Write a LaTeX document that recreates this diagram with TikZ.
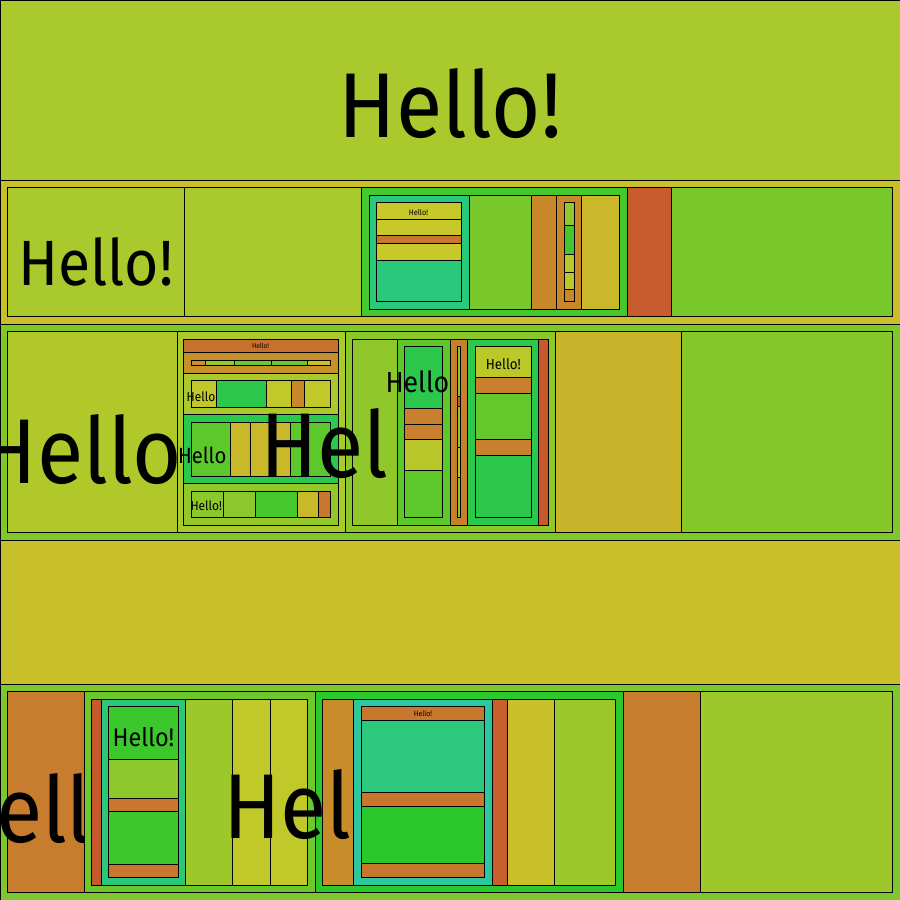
\documentclass[tikz,border=0pt]{standalone}
\usepackage{fontspec}
\setmainfont{Fira Sans}[FakeStretch=0.92]
\newcommand\bx[5]{\definecolor{bxc}{HTML}{#5}\draw[box,fill=bxc] (#1,#2) rectangle (#3,#4);}
\tikzset{
  box/.style={draw=black,line width=1pt},
  txt/.style={inner sep=0pt,outer sep=0pt,text=black},
  fs/.style={font=\fontsize{#1}{#1}\selectfont}
}
\begin{document}
\begin{tikzpicture}[x=1pt,y=-1pt]
\useasboundingbox (0,0) rectangle (900,900);
% ---------- row 1
\bx{0}{0}{900}{180}{A9C92C}
% ---------- row 2
\bx{0}{180}{900}{324}{C8BF2A}
\bx{7}{187}{184}{316}{A9C92C}
\bx{184}{187}{361}{316}{A9C92C}
\bx{361}{187}{627}{316}{44C82E}
 \bx{369}{195}{469}{309}{2AC87A}
  \bx{376}{202}{461}{219}{C8C82A}
  \bx{376}{219}{461}{235.5}{C8C82A}
  \bx{376}{235.5}{461}{243.5}{C8782E}
  \bx{376}{243.5}{461}{260.3}{C8C82A}
  \bx{376}{260.3}{461}{301.3}{2AC87A}
 \bx{469}{195}{531}{309}{78C82C}
 \bx{531}{195}{556}{309}{C8882A}
 \bx{556}{195}{581}{309}{C8882A}
  \bx{564}{202}{574.5}{225.3}{94C82A}
  \bx{564}{225.3}{574.5}{254.3}{44C62E}
  \bx{564}{254.3}{574.5}{272.3}{BCC82A}
  \bx{564}{272.3}{574.5}{289.3}{BCC82A}
  \bx{564}{289.3}{574.5}{301.3}{C8882A}
 \bx{581}{195}{619.3}{309}{C8B82A}
\bx{627}{187}{671}{316}{C85C2E}
\bx{671}{187}{892}{316}{78C82C}
% ---------- row 3
\bx{0}{324}{900}{540}{7EC82A}
\bx{7}{331}{177}{532}{B0C82A}
\bx{177}{331}{345}{532}{A9C92C}
 \bx{183}{339}{338}{352.3}{C8702E}
 \bx{183}{352.3}{338}{373.3}{C8902A}
  \bx{191}{360.3}{205.3}{365.3}{C8902A}
  \bx{205.3}{360.3}{234.3}{365.3}{94C82A}
  \bx{234.3}{360.3}{271.3}{365.3}{6CC82C}
  \bx{271.3}{360.3}{307.7}{365.3}{6CC82C}
  \bx{307.7}{360.3}{330}{365.3}{C8C02A}
 \bx{183}{373.3}{338}{414.3}{A9C92C}
  \bx{191}{380.3}{216.7}{407.7}{C0C82A}
  \bx{216.7}{380.3}{266.3}{407.7}{2CC84C}
  \bx{266.3}{380.3}{291.3}{407.7}{C0C82A}
  \bx{291.3}{380.3}{304.7}{407.7}{C8882A}
  \bx{304.7}{380.3}{330}{407.7}{C0C82A}
 \bx{183}{414.3}{338}{483.3}{2AC84C}
  \bx{191}{422.3}{230.3}{476.3}{5CC82C}
  \bx{230.3}{422.3}{250.7}{476.3}{C8B82A}
  \bx{250.7}{422.3}{290.7}{476.3}{C8B82A}
  \bx{290.7}{422.3}{330}{476.3}{5CC82C}
 \bx{183}{483.3}{338}{525.3}{94C82A}
  \bx{191}{491.7}{223.7}{517.3}{8CC82C}
  \bx{223.7}{491.7}{255.3}{517.3}{8CC82C}
  \bx{255.3}{491.7}{297.3}{517.3}{44C82C}
  \bx{297.3}{491.7}{318.3}{517.3}{C8B82A}
  \bx{318.3}{491.7}{330}{517.3}{C8782E}
\bx{345}{331}{555}{532}{8CC82C}
 \bx{352}{339}{397}{525}{90C82C}
 \bx{397}{339}{450}{525}{5CC82C}
  \bx{404}{346.3}{442}{408.7}{2CC84C}
  \bx{404}{408.7}{442}{424.3}{C8802E}
  \bx{404}{424.3}{442}{439.3}{C8802E}
  \bx{404}{439.3}{442}{470.7}{B8C82A}
  \bx{404}{470.7}{442}{517.3}{5CC82C}
 \bx{450}{339}{467.3}{525}{C8802A}
  \bx{457.3}{346.3}{460.7}{396.7}{8CC82C}
  \bx{457.3}{396.7}{460.7}{406.7}{C85C2E}
  \bx{457.3}{406.7}{460.7}{447.3}{8CC82C}
  \bx{457.3}{447.3}{460.7}{477.3}{B8C82A}
  \bx{457.3}{477.3}{460.7}{517.3}{8CC82C}
 \bx{467.3}{339}{538.3}{525}{2CC84C}
  \bx{475.3}{346.3}{531.3}{377.5}{BCC82A}
  \bx{475.3}{377.5}{531.3}{393.3}{C8802E}
  \bx{475.3}{393.3}{531.3}{439.3}{64C82C}
  \bx{475.3}{439.3}{531.3}{455.3}{C8802E}
  \bx{475.3}{455.3}{531.3}{517.3}{2CC84C}
 \bx{538.3}{339}{548}{525}{C8582E}
\bx{555}{331}{681}{532}{C8B42A}
\bx{681}{331}{892}{532}{84C82A}
% ---------- row 4
\bx{0}{540}{900}{684}{C8C02A}
% ---------- row 5
\bx{0}{684}{900}{900}{7CC82E}
\bx{7}{691}{84.3}{892}{C87C2E}
\bx{84.3}{691}{315.7}{892}{6CC82C}
 \bx{91.7}{699.3}{101.7}{885}{C8582E}
 \bx{101.7}{699.3}{185.3}{885}{2AC878}
  \bx{108.3}{706}{178.3}{759.3}{3CC82C}
  \bx{108.3}{759.3}{178.3}{798.3}{8CC82C}
  \bx{108.3}{798.3}{178.3}{811.7}{C8782E}
  \bx{108.3}{811.7}{178.3}{864.3}{3CC82C}
  \bx{108.3}{864.3}{178.3}{877.3}{C8782E}
 \bx{185.3}{699.3}{232.3}{885}{9CC82C}
 \bx{232.3}{699.3}{270.3}{885}{C0C82A}
 \bx{270.3}{699.3}{307.3}{885}{C0C82A}
\bx{315.7}{691}{623.3}{892}{2CC82E}
 \bx{322.3}{699.3}{353.7}{885}{C88C2A}
 \bx{353.7}{699.3}{492}{885}{2CC8A0}
  \bx{361.3}{706.3}{484.7}{720.3}{C8782E}
  \bx{361.3}{720.3}{484.7}{792.3}{2CC87C}
  \bx{361.3}{792.3}{484.7}{806.3}{C8782E}
  \bx{361.3}{806.3}{484.7}{863.3}{2AC82A}
  \bx{361.3}{863.3}{484.7}{877.3}{C8782E}
 \bx{492}{699.3}{507.3}{885}{C8602E}
 \bx{507.3}{699.3}{554.3}{885}{C8C02A}
 \bx{554.3}{699.3}{615.3}{885}{9CC82C}
\bx{623.3}{691}{700.3}{892}{C87C2E}
\bx{700.3}{691}{892}{892}{9CC82C}
% ---------- texts
\node[txt,fs=92,anchor=base] (t1) at (450,137) {Hello!};
\node[txt,fs=64,anchor=base] (t2) at (96,285) {Hello!};
\begin{scope}
\clip (0,331) rectangle (177,532);
\node[txt,fs=92,anchor=base west] (t3) at (-20,483) {Hello};
\end{scope}
\node[txt,fs=92,anchor=base west] (t4) at (260,477) {Hel};
\begin{scope}
\clip (352,339) rectangle (450,525);
\node[txt,fs=29,anchor=base west] (t5) at (385.5,392.7) {Hello};
\end{scope}
\begin{scope}
\clip (177,414) rectangle (230.3,483);
\node[txt,fs=22,anchor=base west] (t6) at (178,463.5) {Hello};
\end{scope}
\begin{scope}
\clip (183,373) rectangle (216.7,414);
\node[txt,fs=13,anchor=base west] (t7) at (186.7,401) {Hello};
\end{scope}
\node[txt,fs=13,anchor=base west] (t8) at (190.5,510.5) {Hello!};
\node[txt,fs=14.5,anchor=base] (t9) at (503.3,369.3) {Hello!};
\node[txt,fs=25.5,anchor=base] (t10) at (143.5,746) {Hello!};
\begin{scope}
\clip (0,691) rectangle (84.3,892);
\node[txt,fs=92,anchor=base west] (t11) at (-4,842) {ell};
\end{scope}
\node[txt,fs=92,anchor=base west] (t12) at (223,838) {Hel};
\node[txt,fs=8,anchor=base] (t13) at (418.5,215.5) {Hello!};
\node[txt,fs=7,anchor=base] (t14) at (260.5,348.5) {Hello!};
\node[txt,fs=7.5,anchor=base] (t15) at (423,716.5) {Hello!};
\end{tikzpicture}
\end{document}
